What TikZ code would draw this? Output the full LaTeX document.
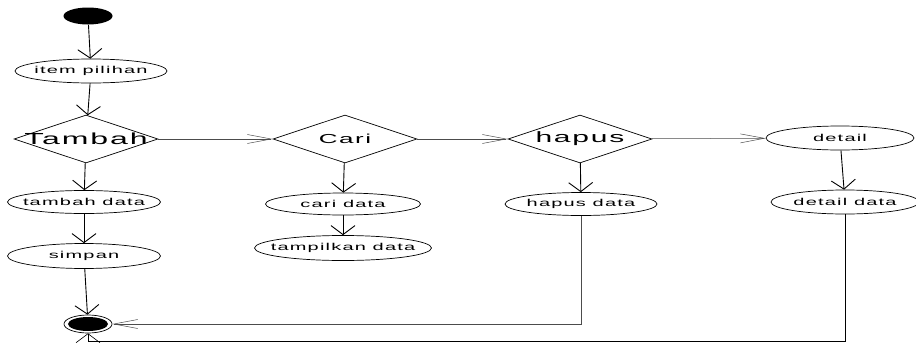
\documentclass[tikz,border=0pt]{standalone}
\usepackage{fontspec}
\newfontfamily\umlfont[FakeStretch=2.0, LetterSpace=12]{Liberation Sans}
\usetikzlibrary{arrows.meta,shapes.geometric}

\begin{document}
\begin{tikzpicture}[x=1pt, y=-1pt, line width=0.7pt, font=\umlfont\fontsize{10}{12}\selectfont]
\tikzstyle{activity}=[ellipse, draw=black, inner xsep=-300pt, inner ysep=-300pt, minimum width=152pt, minimum height=24pt]
\tikzstyle{decision}=[diamond, draw=black, inner xsep=-300pt, inner ysep=-300pt, minimum width=144pt, minimum height=48pt, font=\umlfont\fontsize{15}{17}\selectfont]
\tikzstyle{vflow}=[-{Straight Barb[length=9pt,width=24pt]}, line width=0.9pt]
\tikzstyle{hflow}=[-{Straight Barb[length=24pt,width=9pt]}, line width=0.5pt, draw=black!70]
\useasboundingbox (0,0) rectangle (916,343);

\node[ellipse, fill=black, minimum width=49pt, minimum height=17pt, inner sep=0pt] (start) at (88,16) {};
\node[activity] (item) at (91,71) {item pilihan};
\node[decision, font=\umlfont\fontsize{16}{18}\selectfont] (tambah) at (86,139) {Tambah};
\node[activity, minimum width=153pt, minimum height=23pt] (tambahData) at (84,202) {tambah data};
\node[activity, minimum width=153pt, minimum height=25pt] (simpan) at (84,256) {simpan};
\node[ellipse, draw=black, minimum width=48pt, minimum height=18pt, inner sep=0pt,
  path picture={\fill (path picture bounding box.center) ellipse (20pt and 7pt);}] (end) at (88,324) {};

\node[decision, font=\umlfont\fontsize{13}{15}\selectfont] (cari) at (345,139) {Cari};
\node[activity, minimum width=155pt, minimum height=22pt] (cariData) at (343,204) {cari data};
\node[activity, minimum width=177pt, minimum height=25pt] (tampilData) at (343,248) {tampilkan data};

\node[decision] (hapus) at (580,139) {hapus};
\node[activity, minimum height=23pt] (hapusData) at (581,204) {hapus data};

\node[activity, minimum width=148pt] (detail) at (840,138) {detail};
\node[activity, minimum width=148pt] (detailData) at (845,202) {detail data};
\coordinate (endLoop) at (88,341);

\path[vflow]
 (start) edge (item)
 (item) edge (tambah)
 (tambah) edge (tambahData)
 (tambahData) edge (simpan)
 (simpan) edge (end)
 (cari) edge (cariData)
 (cariData) edge (tampilData)
 (hapus) edge (hapusData)
 (detail) edge (detailData);

\path[hflow]
 (tambah) edge (cari)
 (cari) edge (hapus)
 (hapus) edge (detail);

\draw[hflow] (hapusData) |- (end);
\draw[vflow, line width=0.6pt] (detailData) |- (endLoop) -- (end);
\end{tikzpicture}
\end{document}
